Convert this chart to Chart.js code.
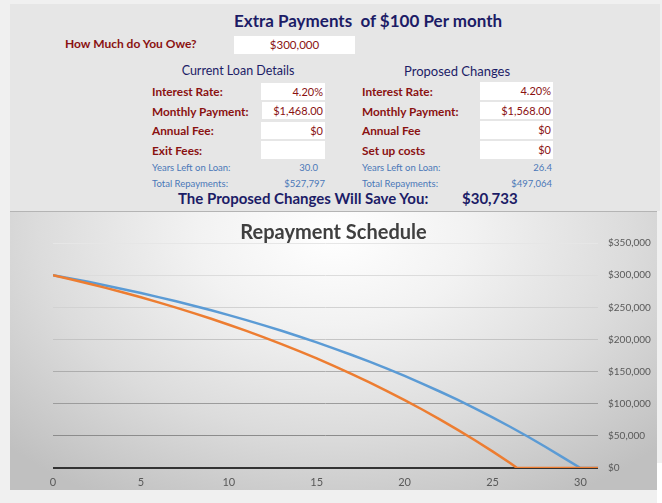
<!DOCTYPE html>
<html>
<head>
<meta charset="utf-8">
<script src="https://cdn.jsdelivr.net/npm/chart.js@4"></script>
<style>
  html, body { margin:0; padding:0; }
  body { width:662px; height:503px; background:#f0f0f0; position:relative; overflow:hidden; font-family: Lato, "Noto Sans", sans-serif; }
  #panel { position:absolute; left:10px; top:4px; width:650px; height:207px; background:#e6e6e6; }
  .t { position:absolute; white-space:nowrap; line-height:1; }
  .navy { color:#1c1c66; }
  .red { color:#8a1111; }
  .lbl { font-size:11.8px; font-weight:bold; }
  .blue { color:#4a78b8; font-size:9.5px; }
  .box { position:absolute; background:#fff; color:#8a1111; font-size:11px; box-sizing:border-box; padding-right:2px; text-align:right; }
  #chartWrap { position:absolute; left:10px; top:211px; width:647px; height:279px;
    border-top:1px solid #b4b4b4; box-sizing:border-box;
    background: radial-gradient(ellipse 70% 110% at 50% 8%, #ffffff 0%, #f2f2f2 30%, #dcdcdc 65%, #c0c0c0 100%); }
  #c { position:absolute; left:0; top:-1px; }
  #corner { position:absolute; left:657px; top:463px; width:5px; height:40px; background:#fff; }
</style>
</head>
<body>
<div id="panel"></div>
<div class="t navy" style="left:234px; top:12px; font-size:17px; font-weight:bold;">Extra Payments&nbsp; of $100 Per month</div>
<div class="t red" style="left:65px; top:38px; font-size:12px; font-weight:bold;">How Much do You Owe?</div>
<div class="box" style="left:234px; top:36px; width:121px; height:18px; line-height:18px; text-align:center; padding:0; font-size:11.5px;">$300,000</div>

<div class="t navy" style="left:175px; top:65px; width:126px; text-align:center; font-size:12.5px;">Current Loan Details</div>
<div class="t navy" style="left:404px; top:65px; font-size:13px;">Proposed Changes</div>

<div class="t red lbl" style="left:152px; top:86px;">Interest Rate:</div>
<div class="t red lbl" style="left:152px; top:106px;">Monthly Payment:</div>
<div class="t red lbl" style="left:152px; top:125px;">Annual Fee:</div>
<div class="t red lbl" style="left:152px; top:145px;">Exit Fees:</div>

<div class="box" style="left:261px; top:83px; width:64px; height:17px; line-height:17px;">4.20%</div>
<div class="box" style="left:262px; top:102px; width:63px; height:17px; line-height:17px;">$1,468.00</div>
<div class="box" style="left:261px; top:122px; width:64px; height:17px; line-height:17px;">$0</div>
<div class="box" style="left:261px; top:141px; width:64px; height:18px; line-height:18px;"></div>

<div class="t red lbl" style="left:362px; top:86px;">Interest Rate:</div>
<div class="t red lbl" style="left:362px; top:106px;">Monthly Payment:</div>
<div class="t red lbl" style="left:362px; top:125px;">Annual Fee</div>
<div class="t red lbl" style="left:362px; top:145px;">Set up costs</div>

<div class="box" style="left:480px; top:82px; width:73px; height:18px; line-height:18px;">4.20%</div>
<div class="box" style="left:480px; top:102px; width:73px; height:17px; line-height:17px;">$1,568.00</div>
<div class="box" style="left:480px; top:121px; width:73px; height:18px; line-height:18px;">$0</div>
<div class="box" style="left:480px; top:141px; width:73px; height:18px; line-height:18px;">$0</div>

<div class="t blue" style="left:152px; top:163px;">Years Left on Loan:</div>
<div class="t blue" style="left:152px; top:179px;">Total Repayments:</div>
<div class="t blue" style="left:258px; top:163px; width:60px; text-align:right;">30.0</div>
<div class="t blue" style="left:255px; top:179px; width:70px; text-align:right;">$527,797</div>
<div class="t blue" style="left:362px; top:163px;">Years Left on Loan:</div>
<div class="t blue" style="left:362px; top:179px;">Total Repayments:</div>
<div class="t blue" style="left:482px; top:163px; width:70px; text-align:right;">26.4</div>
<div class="t blue" style="left:482px; top:179px; width:70px; text-align:right;">$497,064</div>

<div class="t navy" style="left:178px; top:191px; font-size:15px; font-weight:bold;">The Proposed Changes Will Save You:</div>
<div class="t navy" style="left:462px; top:191px; font-size:15px; font-weight:bold;">$30,733</div>

<div id="chartWrap"><canvas id="c" width="647" height="279"></canvas></div>
<div id="corner"></div>

<script>
// Years on the horizontal axis and remaining balance for each series
const currentYears = [0,1,2,3,4,5,6,7,8,9,10,11,12,13,14,15,16,17,18,19,20,21,22,23,24,25,26,27,28,29,30,31];
const currentBalance = [300000,294900,289600,284000,278200,272100,265800,259300,252400,245300,237800,230000,221900,213500,204600,195400,185800,175800,165400,154500,143200,131400,119000,106200,92800,78800,64200,49000,33100,16600,0,0];
const proposedYears = [0,1,2,3,4,5,6,7,8,9,10,11,12,13,14,15,16,17,18,19,20,21,22,23,24,25,26,26.4,31];
const proposedBalance = [300000,293700,287100,280200,273000,265500,257700,249500,241000,232200,222900,213300,203200,192700,181800,170400,158500,146100,133200,119700,105700,91000,75700,59800,43200,25800,7800,0,0];
const yTickValues = [0,50000,100000,150000,200000,250000,300000,350000];
const xTickValues = [0,5,10,15,20,25,30];
const gridColors = ['#333333','#8c8c8c','#9c9c9c','#adadad','#c4c4c4','#d2d2d2','#dcdcdc','#e6e6e6'];

const toPts = (xs, ys) => xs.map((x, i) => ({x: x, y: ys[i]}));

new Chart(document.getElementById('c'), {
  type: 'line',
  data: {
    datasets: [
      { label: 'Proposed', data: toPts(proposedYears, proposedBalance), xAxisID: 'x', yAxisID: 'y', borderColor: '#ed7d31', borderWidth: 2.5, pointRadius: 0, tension: 0, order: 0 },
      { label: 'Current', data: toPts(currentYears, currentBalance), xAxisID: 'x', yAxisID: 'y', borderColor: '#5b9bd5', borderWidth: 2.5, pointRadius: 0, tension: 0, order: 1 }
    ]
  },
  options: {
    responsive: false,
    animation: false,
    layout: { padding: 0 },
    plugins: {
      legend: { display: false },
      tooltip: { enabled: false },
      title: {
        display: true,
        text: 'Repayment Schedule',
        color: '#3f3f3f',
        font: { family: 'Lato', size: 20, weight: 'bold', lineHeight: 1 },
        padding: { top: 12, bottom: 0 }
      }
    },
    scales: {
      x: {
        type: 'linear',
        min: 0, max: 31,
        afterBuildTicks: s => { s.ticks = xTickValues.map(v => ({value: v})); },
        ticks: { color: '#595959', font: { family: 'Lato', size: 11 }, padding: 8, maxRotation: 0 },
        grid: { display: false, drawTicks: false },
        border: { display: false },
        afterFit: s => { s.height = 22; }
      },
      y: {
        position: 'right',
        min: 0, max: 350000,
        afterBuildTicks: s => { s.ticks = yTickValues.map(v => ({value: v})); },
        ticks: {
          color: '#595959', font: { family: 'Lato', size: 10 }, padding: 10,
          callback: v => '$' + Number(v).toLocaleString('en-US')
        },
        grid: {
          drawTicks: false,
          color: ctx => gridColors[yTickValues.indexOf(ctx.tick.value)] || '#d0d0d0',
          lineWidth: ctx => ctx.tick.value === 0 ? 2 : 1
        },
        border: { display: false },
        afterFit: s => { s.width = 59; }
      },
      spacer: {
        type: 'linear',
        axis: 'y',
        position: 'left',
        display: true,
        ticks: { display: false },
        grid: { display: false, drawTicks: false },
        border: { display: false },
        afterFit: s => { s.width = 43; }
      }
    }
  }
});
</script>
</body>
</html>
